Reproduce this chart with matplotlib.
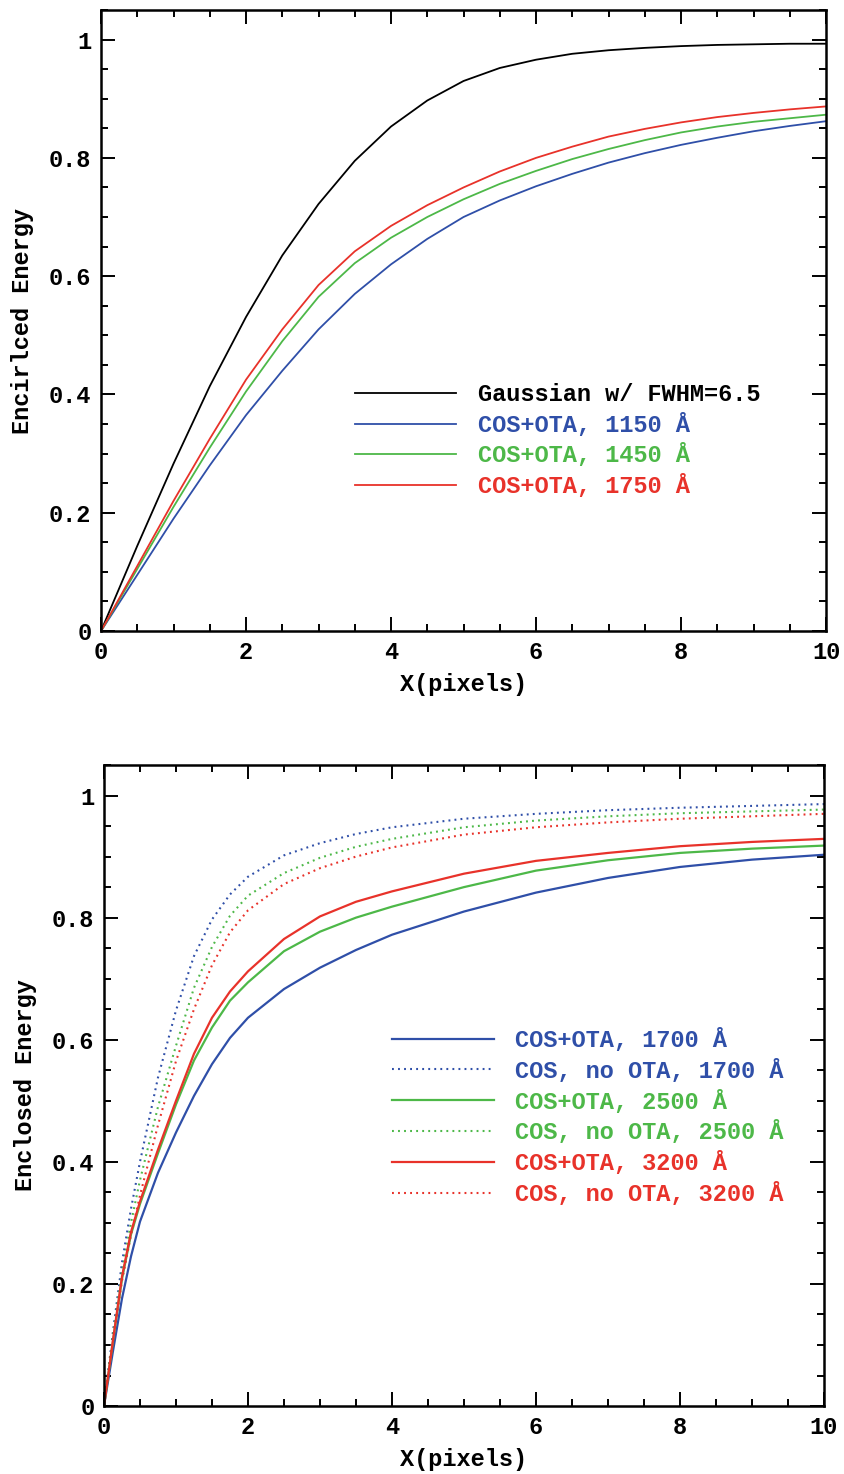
import matplotlib
matplotlib.use("Agg")
import matplotlib.pyplot as plt
from matplotlib.ticker import MultipleLocator

# colours used in the reference
BLUE = '#2f4fa8'
GREEN = '#4db848'
RED = '#e8322a'

# ---- top panel: encircled energy vs X (pixels) ----
x_top = [0, 0.5, 1, 1.5, 2, 2.5, 3, 3.5, 4, 4.5, 5,
         5.5, 6, 6.5, 7, 7.5, 8, 8.5, 9, 9.5, 10]
gauss = [0, 0.144, 0.283, 0.414, 0.531, 0.635, 0.722, 0.795, 0.853, 0.897, 0.930,
         0.952, 0.966, 0.976, 0.982, 0.986, 0.989, 0.991, 0.992, 0.993, 0.993]
ota_1150 = [0, 0.095, 0.19, 0.28, 0.365, 0.44, 0.51, 0.57, 0.62, 0.663, 0.70,
            0.728, 0.752, 0.773, 0.792, 0.808, 0.822, 0.834, 0.845, 0.854, 0.862]
ota_1450 = [0, 0.105, 0.21, 0.31, 0.405, 0.49, 0.565, 0.622, 0.665, 0.70, 0.73,
            0.756, 0.778, 0.798, 0.815, 0.83, 0.843, 0.853, 0.861, 0.867, 0.873]
ota_1750 = [0, 0.11, 0.22, 0.325, 0.425, 0.51, 0.585, 0.642, 0.685, 0.72, 0.75,
            0.777, 0.80, 0.819, 0.836, 0.849, 0.86, 0.869, 0.876, 0.882, 0.887]

# ---- bottom panel: enclosed energy, with and without OTA ----
x_bot = [0, 0.125, 0.25, 0.375, 0.5, 0.75, 1, 1.25, 1.5, 1.75, 2,
         2.5, 3, 3.5, 4, 5, 6, 7, 8, 9, 10]
ota_1700 = [0, 0.09, 0.176, 0.245, 0.302, 0.382, 0.448, 0.508, 0.56, 0.603, 0.636,
            0.683, 0.718, 0.747, 0.772, 0.81, 0.841, 0.865, 0.883, 0.895, 0.903]
noota_1700 = [0, 0.122, 0.235, 0.323, 0.40, 0.538, 0.648, 0.737, 0.797, 0.838, 0.867,
              0.902, 0.922, 0.937, 0.948, 0.962, 0.970, 0.976, 0.980, 0.983, 0.986]
ota_2500 = [0, 0.106, 0.208, 0.281, 0.331, 0.414, 0.494, 0.566, 0.62, 0.664, 0.694,
            0.745, 0.777, 0.80, 0.818, 0.85, 0.877, 0.894, 0.906, 0.913, 0.918]
noota_2500 = [0, 0.115, 0.22, 0.30, 0.37, 0.49, 0.59, 0.685, 0.752, 0.803, 0.836,
              0.873, 0.898, 0.916, 0.929, 0.948, 0.959, 0.966, 0.971, 0.974, 0.977]
ota_3200 = [0, 0.108, 0.212, 0.285, 0.335, 0.42, 0.50, 0.577, 0.636, 0.679, 0.712,
            0.765, 0.802, 0.826, 0.843, 0.872, 0.893, 0.906, 0.917, 0.924, 0.929]
noota_3200 = [0, 0.108, 0.205, 0.28, 0.345, 0.46, 0.565, 0.65, 0.722, 0.776, 0.812,
              0.855, 0.881, 0.90, 0.915, 0.936, 0.948, 0.956, 0.962, 0.966, 0.970]

FONT = 'Liberation Mono'
plt.rcParams['font.family'] = [FONT, 'DejaVu Sans']
plt.rcParams['font.weight'] = 'bold'
plt.rcParams['axes.labelweight'] = 'bold'
plt.rcParams['font.size'] = 17


def style_axes(ax, ylabel):
    ax.set_xlim(0, 10)
    ax.set_ylim(0, 1.05)
    ax.xaxis.set_major_locator(MultipleLocator(2))
    ax.xaxis.set_minor_locator(MultipleLocator(0.5))
    ax.yaxis.set_minor_locator(MultipleLocator(0.05))
    ax.set_yticks([0, 0.2, 0.4, 0.6, 0.8, 1.0])
    ax.set_yticklabels(['0', '0.2', '0.4', '0.6', '0.8', '1'])
    ax.tick_params(which='both', direction='in', top=True, right=True,
                   width=1.4, labelsize=17, pad=7)
    ax.tick_params(which='major', length=10)
    ax.tick_params(which='minor', length=5)
    for s in ax.spines.values():
        s.set_linewidth(1.8)
    ax.set_xlabel('X(pixels)', fontsize=17, labelpad=6.5)
    ax.set_ylabel(ylabel, fontsize=17, labelpad=11)


fig = plt.figure(figsize=(8.44, 14.74), dpi=100)
ax1 = fig.add_axes([0.1197, 0.5719, 0.8590, 0.4213])
ax2 = fig.add_axes([0.1232, 0.0461, 0.8531, 0.4349])

lw = 1.3
ax1.plot(x_top, gauss, color='black', lw=lw, label='Gaussian w/ FWHM=6.5')
ax1.plot(x_top, ota_1150, color=BLUE, lw=lw, label='COS+OTA, 1150 Å')
ax1.plot(x_top, ota_1450, color=GREEN, lw=lw, label='COS+OTA, 1450 Å')
ax1.plot(x_top, ota_1750, color=RED, lw=lw, label='COS+OTA, 1750 Å')
style_axes(ax1, 'Encirlced Energy')
ax1.legend(loc='upper left', bbox_to_anchor=(0.350, 0.399), frameon=False,
           borderpad=0, borderaxespad=0, handlelength=4.3, handletextpad=0.9,
           labelspacing=0.28, labelcolor='linecolor', fontsize=17)

dot = (0, (0.9, 2.0))
ax2.plot(x_bot, ota_1700, color=BLUE, lw=1.6, label='COS+OTA, 1700 Å')
ax2.plot(x_bot, noota_1700, color=BLUE, lw=1.5, ls=dot, label='COS, no OTA, 1700 Å')
ax2.plot(x_bot, ota_2500, color=GREEN, lw=1.6, label='COS+OTA, 2500 Å')
ax2.plot(x_bot, noota_2500, color=GREEN, lw=1.5, ls=dot, label='COS, no OTA, 2500 Å')
ax2.plot(x_bot, ota_3200, color=RED, lw=1.6, label='COS+OTA, 3200 Å')
ax2.plot(x_bot, noota_3200, color=RED, lw=1.5, ls=dot, label='COS, no OTA, 3200 Å')
style_axes(ax2, 'Enclosed Energy')
ax2.legend(loc='upper left', bbox_to_anchor=(0.400, 0.590), frameon=False,
           borderpad=0, borderaxespad=0, handlelength=4.3, handletextpad=0.9,
           labelspacing=0.29, labelcolor='linecolor', fontsize=17)

fig.savefig('out.png', dpi=100)
